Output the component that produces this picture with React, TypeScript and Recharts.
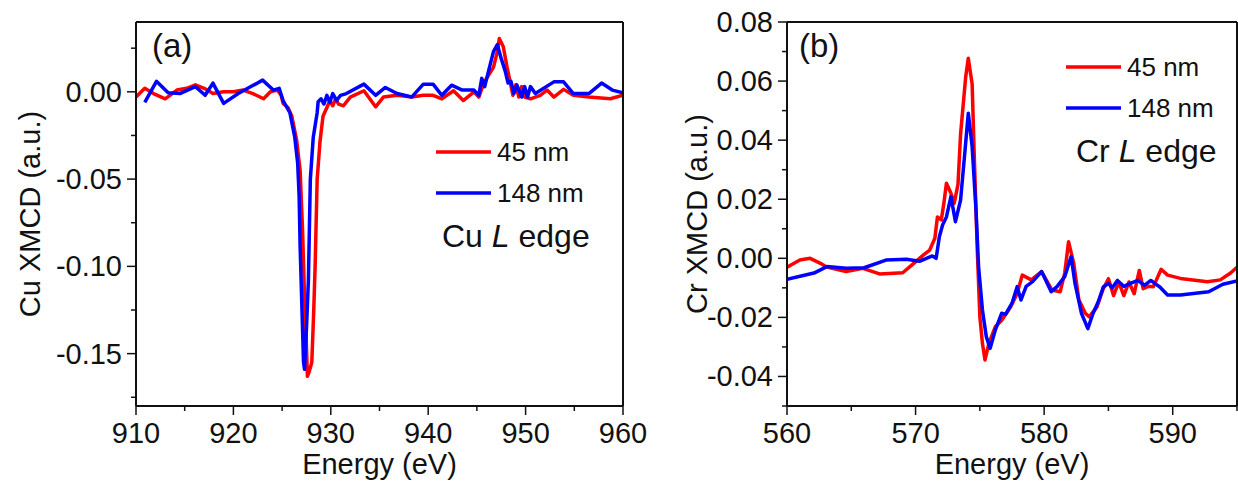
import React from "react";
import { LineChart, Line, XAxis, YAxis, Legend } from "recharts";

// ---- panel (a): Cu L edge ----
const cuE45 = [
  910.0, 910.9, 911.8, 913.0, 914.2, 915.2, 916.1, 917.0, 917.9, 919.0, 920.0, 921.0, 922.0, 923.1, 923.8, 924.5,
  924.9, 925.1, 925.6, 926.0, 926.5, 926.85, 927.1, 927.3, 927.5, 927.6, 927.8, 928.05, 928.25, 928.4, 928.6,
  928.9, 929.2, 929.6, 929.9, 930.2, 930.5, 930.8, 931.3, 932.0, 933.4, 934.0, 934.6, 935.4, 936.8, 938.3,
  939.5, 940.5, 941.4, 942.6, 943.6, 944.7, 945.2, 945.7, 946.2, 946.7, 947.1, 947.3, 947.7, 948.1, 948.4,
  948.7, 949.0, 949.3, 949.6, 949.9, 950.5, 951.5, 952.2, 952.9, 953.9, 954.9, 956.5, 958.7, 960.0,
];
const cuV45 = [
  -0.003, 0.002, -0.001, -0.004, 0.001, 0.002, 0.004, 0.002, -0.001, 0.0, 0.0, 0.001, -0.001, -0.004, 0.0, 0.001,
  -0.002, -0.0066, -0.009, -0.014, -0.028, -0.045, -0.079, -0.117, -0.146, -0.163, -0.16, -0.155, -0.125, -0.098, -0.05,
  -0.028, -0.014, -0.009, -0.005, -0.008, -0.004, -0.007, -0.008, -0.003, 0.0006, -0.004, -0.0086, -0.003, -0.002, -0.003,
  -0.002, -0.002, -0.004, 0.0006, -0.005, 0.0, -0.003, 0.005, 0.0096, 0.014, 0.023, 0.0305, 0.026, 0.014, 0.006,
  -0.002, 0.004, -0.003, 0.003, -0.003, -0.004, -0.002, 0.001, -0.003, 0.0014, -0.002, -0.003, -0.004, -0.002,
];
const cuE148 = [
  910.9, 912.1, 913.3, 914.5, 916.1, 917.1, 917.9, 919.0, 920.5, 921.8, 923.0, 924.1, 924.7, 925.1, 925.8, 926.3,
  926.6, 926.75, 926.85, 927.0, 927.2, 927.3, 927.5, 927.7, 927.9, 928.2, 928.6, 928.7, 929.0, 929.3, 929.6,
  929.9, 930.2, 930.6, 931.0, 931.6, 933.4, 934.6, 935.6, 936.8, 938.3, 939.5, 940.5, 941.4, 942.4, 943.5,
  944.7, 945.2, 945.5, 945.8, 946.2, 946.7, 947.1, 947.5, 947.9, 948.2, 948.5, 948.8, 949.1, 949.6, 949.9,
  950.2, 950.5, 951.0, 952.9, 953.9, 954.9, 956.5, 957.8, 958.9, 960.0,
];
const cuV148 = [
  -0.006, 0.006, -0.0006, -0.001, 0.003, -0.002, 0.005, -0.0066, -0.001, 0.003, 0.0067, 0.001, 0.002, -0.005, -0.012, -0.026,
  -0.041, -0.06, -0.0886, -0.117, -0.155, -0.159, -0.136, -0.108, -0.05, -0.026, -0.012, -0.0057, -0.004, -0.007, -0.002,
  -0.006, -0.001, -0.005, -0.002, -0.001, 0.0044, -0.002, 0.0025, -0.001, -0.003, 0.0044, 0.0044, -0.002, 0.0038, 0.001,
  0.001, -0.002, 0.0077, 0.003, 0.012, 0.023, 0.027, 0.019, 0.012, 0.005, 0.006, -0.001, 0.004, -0.003, 0.003,
  -0.003, 0.003, -0.001, 0.0057, 0.0057, -0.001, -0.001, 0.005, 0.001, -0.0006,
];

// ---- panel (b): Cr L edge ----
const crE45 = [
  560.0, 561.0, 561.8, 562.6, 563.1, 564.6, 565.9, 567.2, 569.0, 569.7, 570.6, 571.1, 571.5, 571.7, 572.0, 572.2,
  572.4, 572.75, 573.0, 573.3, 573.5, 573.9, 574.1, 574.4, 574.55, 574.8, 575.0, 575.2, 575.4, 575.7, 576.2,
  576.7, 577.4, 577.9, 578.3, 579.0, 579.8, 580.6, 581.25, 581.6, 581.9, 582.3, 582.7, 583.2, 583.5, 584.1,
  584.6, 585.0, 585.4, 585.8, 586.2, 586.6, 587.0, 587.4, 587.7, 588.1, 588.5, 589.1, 589.6, 590.6, 592.7,
  593.7, 594.5, 595.0,
];
const crV45 = [
  -0.003, -0.0006, 0.0, -0.0017, -0.003, -0.0045, -0.0034, -0.0053, -0.0049, -0.0023, 0.0011, 0.0028, 0.0068, 0.014, 0.013, 0.0186,
  0.0254, 0.022, 0.0186, 0.025, 0.042, 0.0615, 0.0677, 0.059, 0.0367, 0.0028, -0.0198, -0.0288, -0.0344, -0.0288, -0.0232,
  -0.021, -0.0164, -0.0119, -0.0057, -0.0073, -0.0045, -0.0107, -0.0113, -0.005, 0.0056, -0.0017, -0.014, -0.0186, -0.0198, -0.0165,
  -0.0103, -0.0069, -0.0126, -0.0081, -0.0126, -0.008, -0.012, -0.0041, -0.0103, -0.0095, -0.0096, -0.0037, -0.0057, -0.0068, -0.0079,
  -0.0073, -0.005, -0.003,
];
const crE148 = [
  560.0, 562.1, 563.1, 564.6, 566.0, 567.7, 569.3, 570.3, 571.3, 571.6, 571.85, 572.1, 572.4, 572.75, 573.1, 573.5,
  573.85, 574.1, 574.4, 574.7, 574.9, 575.2, 575.5, 575.8, 576.2, 576.7, 577.0, 577.5, 577.9, 578.2, 578.6,
  579.1, 579.8, 580.55, 581.0, 581.6, 582.1, 582.4, 582.9, 583.4, 583.8, 584.2, 584.6, 585.0, 585.3, 585.7,
  586.2, 586.7, 587.3, 587.8, 588.3, 588.6, 589.0, 589.6, 590.6, 592.8, 593.9, 595.0,
];
const crV148 = [
  -0.0071, -0.005, -0.0028, -0.0034, -0.0032, -0.0006, -0.0003, -0.001, 0.0008, 0.0, 0.0073, 0.0113, 0.014, 0.0209, 0.0124, 0.0197,
  0.0367, 0.0491, 0.0378, 0.0164, -0.0028, -0.0175, -0.0265, -0.0305, -0.0243, -0.0186, -0.019, -0.0152, -0.0096, -0.0141, -0.0095,
  -0.0079, -0.0045, -0.0113, -0.0096, -0.0062, 0.0006, -0.0085, -0.0186, -0.0238, -0.0187, -0.0148, -0.0097, -0.0085, -0.01, -0.0075,
  -0.0095, -0.0085, -0.0075, -0.0092, -0.0075, -0.0085, -0.0097, -0.0124, -0.0124, -0.0113, -0.0088, -0.0077,
];

// ticks
const cuXTicks = [910, 915, 920, 925, 930, 935, 940, 945, 950, 955, 960];
const cuXLabels = [910, 920, 930, 940, 950, 960];
const cuTopTicks = [915, 920, 925, 930, 935, 940, 945, 950, 955];
const cuYTicks = [-0.175, -0.15, -0.125, -0.1, -0.075, -0.05, -0.025, 0, 0.025];
const cuYLabels = [-0.15, -0.1, -0.05, 0];
const crXTicks = [560, 565, 570, 575, 580, 585, 590, 595];
const crXLabels = [560, 570, 580, 590];
const crTopTicks = [565, 570, 575, 580, 585, 590];
const crYTicks = [-0.05, -0.04, -0.03, -0.02, -0.01, 0, 0.01, 0.02, 0.03, 0.04, 0.05, 0.06, 0.07, 0.08];
const crYLabels = [-0.04, -0.02, 0, 0.02, 0.04, 0.06, 0.08];
const sideTicks = [1, 2, 3, 4, 5, 6, 7, 8, 9];
const seriesNames = ["45 nm", "148 nm"];

const FONT = '"Liberation Sans", Arial, Helvetica, sans-serif';
const INK = "#111";
const RED = "#ff0000";
const BLUE = "#0000ff";

const zip = (es: number[], vs: number[]) => es.map((e, i) => ({ e, v: vs[i] }));
const isIn = (list: number[], v: number) => list.some((l) => Math.abs(l - v) < 1e-9);

const BottomTick = (labels: number[]) => (p: any) => {
  const major = isIn(labels, p.payload.value);
  return (
    <g>
      <line x1={p.x} x2={p.x} y1={p.y} y2={p.y + (major ? 9 : 5)} stroke={INK} strokeWidth={1.5} />
      {major && (
        <text x={p.x} y={p.y + 37} textAnchor="middle" fontSize={29} fill={INK}>
          {p.payload.value}
        </text>
      )}
    </g>
  );
};

const LeftTick = (labels: number[]) => (p: any) => {
  const major = isIn(labels, p.payload.value);
  return (
    <g>
      <line x1={p.x - (major ? 9 : 5)} x2={p.x} y1={p.y} y2={p.y} stroke={INK} strokeWidth={1.5} />
      {major && (
        <text x={p.x - 14} y={p.y + 10} textAnchor="end" fontSize={29} fill={INK}>
          {Number(p.payload.value).toFixed(2)}
        </text>
      )}
    </g>
  );
};

const TopTick = (p: any) => (
  <line x1={p.x} x2={p.x} y1={p.y} y2={p.y + 5} stroke={INK} strokeWidth={1.5} />
);
const RightTick = (p: any) => (
  <line x1={p.x - 5} x2={p.x} y1={p.y} y2={p.y} stroke={INK} strokeWidth={1.5} />
);

// legend rows in the order of the plot: 45 nm first
const LegendBox = ({ payload }: any) => {
  const items = [...(payload || [])].sort(
    (a: any, b: any) => seriesNames.indexOf(a.value) - seriesNames.indexOf(b.value)
  );
  return (
    <svg width={200} height={90}>
      {items.map((it: any, i: number) => (
        <g key={it.value}>
          <line x1={6} x2={61} y1={22 + i * 41} y2={22 + i * 41} stroke={it.color} strokeWidth={3.5} />
          <text x={67} y={31 + i * 41} fontSize={26} fill={INK}>
            {it.value}
          </text>
        </g>
      ))}
    </svg>
  );
};

const axisLine = { stroke: INK, strokeWidth: 2 };

type PanelProps = {
  left: number;
  width: number;
  yWidth: number;
  marginRight: number;
  xDomain: [number, number];
  yDomain: [number, number];
  xTicks: number[];
  xLabels: number[];
  topTicks: number[];
  yTicks: number[];
  yLabels: number[];
  s45: { e: number; v: number }[];
  s148: { e: number; v: number }[];
  yTitle: string;
  yTitleX: number;
  legendPos: { left: number; top: number };
  tag: string;
  tagX: number;
  element: string;
  elemX: number;
  elemY: number;
};

function Panel(p: PanelProps) {
  return (
    <div style={{ position: "absolute", left: p.left, top: 0, width: p.width, height: 482 }}>
      <LineChart width={p.width} height={482} margin={{ top: 21, right: p.marginRight, bottom: 0, left: 0 }}>
        <XAxis
          xAxisId="b"
          dataKey="e"
          type="number"
          domain={p.xDomain}
          allowDataOverflow
          ticks={p.xTicks}
          interval={0}
          height={76}
          tickSize={0}
          tickMargin={0}
          tickLine={false}
          axisLine={axisLine}
          tick={BottomTick(p.xLabels)}
          label={{ value: "Energy (eV)", position: "insideBottom", offset: 8, fontSize: 29, fill: INK }}
        />
        <XAxis
          xAxisId="t"
          orientation="top"
          type="number"
          domain={p.xDomain}
          allowDataOverflow
          ticks={p.topTicks}
          interval={0}
          height={1}
          tickSize={0}
          tickMargin={0}
          tickLine={false}
          axisLine={axisLine}
          tick={TopTick}
        />
        <YAxis
          yAxisId="l"
          type="number"
          domain={p.yDomain}
          allowDataOverflow
          ticks={p.yTicks}
          interval={0}
          width={p.yWidth}
          tickSize={0}
          tickMargin={0}
          tickLine={false}
          axisLine={axisLine}
          tick={LeftTick(p.yLabels)}
          label={{
            value: p.yTitle,
            angle: -90,
            position: "insideLeft",
            offset: p.yTitleX,
            fontSize: 29,
            fill: INK,
            style: { textAnchor: "middle" },
          }}
        />
        <YAxis
          yAxisId="r"
          orientation="right"
          type="number"
          domain={[0, 10]}
          ticks={sideTicks}
          interval={0}
          width={1}
          tickSize={0}
          tickMargin={0}
          tickLine={false}
          axisLine={axisLine}
          tick={RightTick}
        />
        <Legend
          layout="vertical"
          align="center"
          verticalAlign="middle"
          wrapperStyle={{ left: p.legendPos.left, top: p.legendPos.top, width: 200, height: 90 }}
          content={LegendBox}
        />
        <Line
          xAxisId="b"
          yAxisId="l"
          data={p.s45}
          dataKey="v"
          name="45 nm"
          type="linear"
          stroke={RED}
          strokeWidth={3.5}
          strokeLinejoin="round"
          dot={false}
          isAnimationActive={false}
        />
        <Line
          xAxisId="b"
          yAxisId="l"
          data={p.s148}
          dataKey="v"
          name="148 nm"
          type="linear"
          stroke={BLUE}
          strokeWidth={3.5}
          strokeLinejoin="round"
          dot={false}
          isAnimationActive={false}
        />
      </LineChart>
      <svg
        width={p.width}
        height={482}
        style={{ position: "absolute", left: 0, top: 0, pointerEvents: "none" }}
      >
        <text x={p.tagX} y={57} fontSize={33} fill={INK}>
          {p.tag}
        </text>
        <text x={p.elemX} y={p.elemY} fontSize={32} fill={INK}>
          <tspan>{p.element + " "}</tspan>
          <tspan fontStyle="italic">L</tspan>
          <tspan>{" edge"}</tspan>
        </text>
      </svg>
    </div>
  );
}

export default function App() {
  return (
    <div
      style={{
        position: "absolute",
        left: 0,
        top: 0,
        width: 1238,
        height: 482,
        background: "#fff",
        fontFamily: FONT,
        overflow: "hidden",
      }}
    >
      <Panel
        left={0}
        width={660}
        yWidth={136}
        marginRight={36}
        xDomain={[910, 960]}
        yDomain={[-0.18, 0.04]}
        xTicks={cuXTicks}
        xLabels={cuXLabels}
        topTicks={cuTopTicks}
        yTicks={cuYTicks}
        yLabels={cuYLabels}
        s45={zip(cuE45, cuV45)}
        s148={zip(cuE148, cuV148)}
        yTitle="Cu XMCD (a.u.)"
        yTitleX={30}
        legendPos={{ left: 430, top: 130 }}
        tag="(a)"
        tagX={152}
        element="Cu"
        elemX={442}
        elemY={247}
      />
      <Panel
        left={660}
        width={578}
        yWidth={127}
        marginRight={0}
        xDomain={[560, 595]}
        yDomain={[-0.05, 0.08]}
        xTicks={crXTicks}
        xLabels={crXLabels}
        topTicks={crTopTicks}
        yTicks={crYTicks}
        yLabels={crYLabels}
        s45={zip(crE45, crV45)}
        s148={zip(crE148, crV148)}
        yTitle="Cr XMCD (a.u.)"
        yTitleX={37}
        legendPos={{ left: 400, top: 45 }}
        tag="(b)"
        tagX={139}
        element="Cr"
        elemX={416}
        elemY={162}
      />
    </div>
  );
}
